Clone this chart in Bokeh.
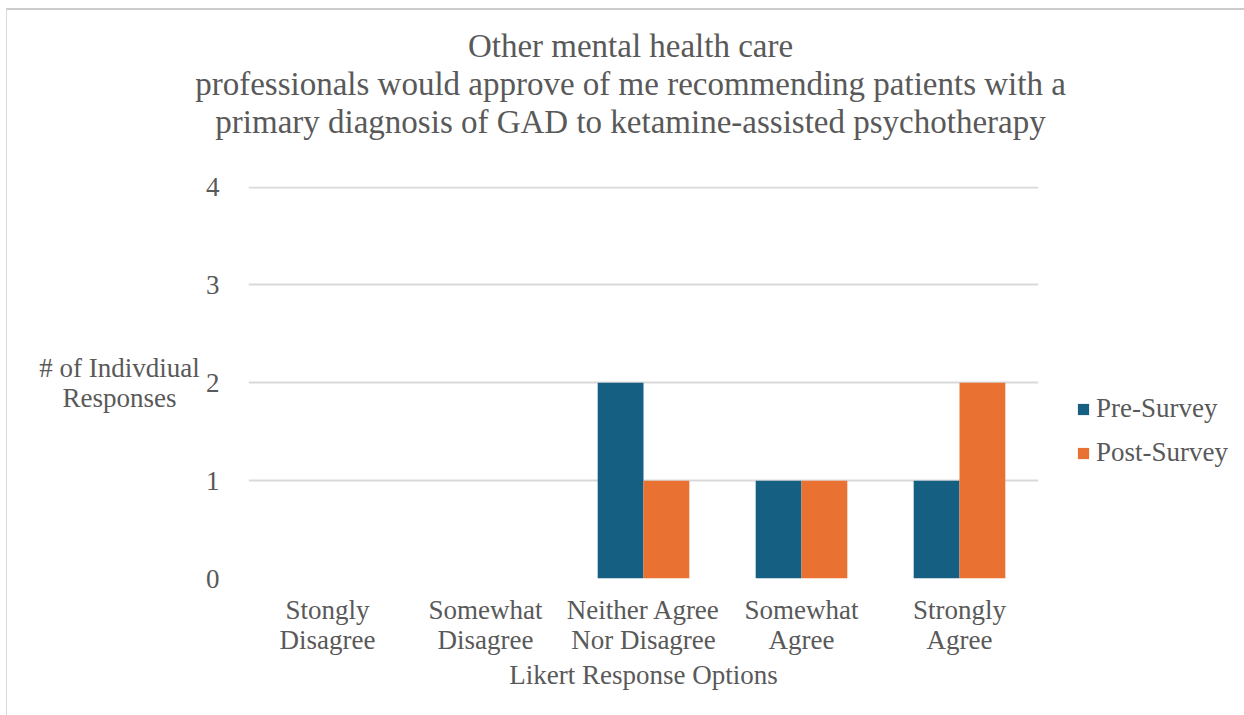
from bokeh.plotting import figure
from bokeh.models import FactorRange, Range1d, Legend, LegendItem, FixedTicker, Label
from bokeh.transform import dodge
from bokeh.models import ColumnDataSource
from bokeh.layouts import row, column
from bokeh.embed import file_html
from bokeh.resources import INLINE

categories = ["Stongly\nDisagree", "Somewhat\nDisagree", "Neither Agree\nNor Disagree",
              "Somewhat\nAgree", "Strongly\nAgree"]
pre_survey = [0, 0, 2, 1, 1]
post_survey = [0, 0, 1, 1, 2]
series_names = ["Pre-Survey", "Post-Survey"]
title_lines = ["Other mental health care",
               "professionals would approve of me recommending patients with a",
               "primary diagnosis of GAD to ketamine-assisted psychotherapy"]
y_title_lines = ["# of Indivdiual", "Responses"]
x_title = "Likert Response Options"
y_ticks = [0, 1, 2, 3, 4]

BLUE = "#156082"
ORANGE = "#E97132"
TEXT = "#595959"
GRID = "#D9D9D9"
FONT = "Liberation Serif"


def blank_fig(w, h, **kw):
    f = figure(width=w, height=h, output_backend="svg", toolbar_location=None, title=None,
               x_range=Range1d(0, w), y_range=Range1d(0, h), frame_align=False, **kw)
    f.axis.visible = False
    f.grid.visible = False
    f.outline_line_color = None
    return f


# ---- title strip -------------------------------------------------------
TW, TH = 1237, 160
pt = blank_fig(TW, TH, min_border_left=0, min_border_right=0, min_border_top=0, min_border_bottom=0)
title_baselines = [125, 87, 49]
for line, yb in zip(title_lines, title_baselines):
    pt.add_layout(Label(x=623, y=yb, text=line, text_align="center", text_baseline="alphabetic",
                        text_font=FONT, text_font_size="33px", text_color=TEXT))

# ---- y-axis title strip -----------------------------------------------
RH = 705 - TH
YW = 194
py = blank_fig(YW, RH, min_border_left=0, min_border_right=0, min_border_top=0, min_border_bottom=0)
for line, yb in zip(y_title_lines, [348, 318]):
    py.add_layout(Label(x=112, y=yb, text=line, text_align="center", text_baseline="alphabetic",
                        text_font=FONT, text_font_size="27px", text_color=TEXT))

# ---- main chart ---------------------------------------------------------
src = ColumnDataSource(dict(cat=categories, pre=pre_survey, post=post_survey))
MW = 847
p = figure(x_range=FactorRange(*categories, range_padding=0), y_range=Range1d(0, 4.006),
           width=MW, height=RH, output_backend="svg", toolbar_location=None, title=None,
           frame_align=False,
           min_border_left=47, min_border_right=10, min_border_top=16, min_border_bottom=137)

r1 = p.vbar(x=dodge("cat", -0.145, range=p.x_range), top="pre", width=0.29, source=src,
            fill_color=BLUE, line_color=None)
r2 = p.vbar(x=dodge("cat", 0.145, range=p.x_range), top="post", width=0.29, source=src,
            fill_color=ORANGE, line_color=None)

p.outline_line_color = None
p.xgrid.grid_line_color = None
p.ygrid.grid_line_color = GRID
p.ygrid.grid_line_width = 2
p.yaxis.ticker = FixedTicker(ticks=y_ticks)

for ax in (p.xaxis[0], p.yaxis[0]):
    ax.axis_line_color = None
    ax.major_tick_line_color = None
    ax.minor_tick_line_color = None
    ax.major_label_text_font = FONT
    ax.major_label_text_font_size = "27px"
    ax.major_label_text_color = TEXT
    ax.axis_label_text_font = FONT
    ax.axis_label_text_font_size = "27px"
    ax.axis_label_text_font_style = "normal"
    ax.axis_label_text_color = TEXT

p.xaxis.axis_label = x_title
p.xaxis.major_label_standoff = 10
p.xaxis.axis_label_standoff = 2
p.xaxis.major_label_text_align = "center"
p.xaxis.major_label_text_line_height = 1.0
p.yaxis.major_label_standoff = 23

# ---- legend strip -------------------------------------------------------
LW = 1237 - YW - MW
pl = figure(width=LW, height=RH, output_backend="svg", toolbar_location=None, title=None,
            x_range=Range1d(0, 1), y_range=Range1d(0, 1), frame_align=False,
            min_border_left=28, min_border_right=0, min_border_top=223, min_border_bottom=0)
pl.axis.visible = False
pl.grid.visible = False
pl.outline_line_color = None
dummy = ColumnDataSource(dict(x=[0], top=[0]))
d1 = pl.vbar(x="x", top="top", width=0, source=dummy, fill_color=BLUE, line_color=None)
d2 = pl.vbar(x="x", top="top", width=0, source=dummy, fill_color=ORANGE, line_color=None)

legend = Legend(items=[LegendItem(label=series_names[0], renderers=[d1]),
                       LegendItem(label=series_names[1], renderers=[d2])],
                location="top_left", orientation="vertical")
legend.glyph_width = 14
legend.glyph_height = 14
legend.label_height = 30
legend.spacing = 13
legend.label_standoff = 6
legend.padding = 0
legend.margin = 0
legend.border_line_color = None
legend.background_fill_alpha = 0
legend.label_text_font = FONT
legend.label_text_font_size = "27px"
legend.label_text_color = TEXT
pl.add_layout(legend)

layout = column(pt, row(py, p, pl, spacing=0), spacing=0, margin=(8, 0, 0, 6),
                styles={"border-top": "2px solid #cccccc", "border-left": "1px solid #d9d9d9"})

open("out.html", "w").write(file_html(layout, INLINE))
